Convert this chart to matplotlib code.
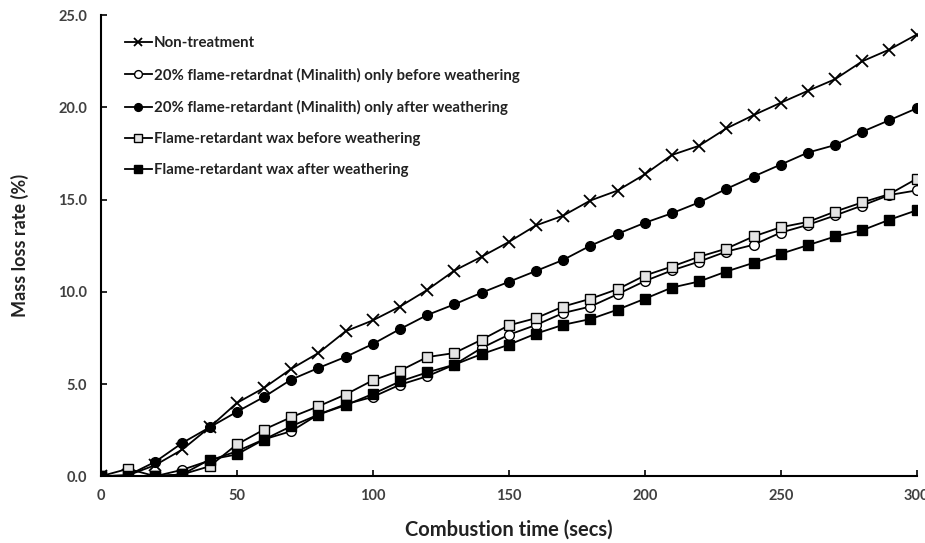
import matplotlib
matplotlib.use("Agg")
import matplotlib.pyplot as plt

# combustion time (secs), sampled every 10 s
time_s = list(range(0, 310, 10))

# mass loss rate (%)
non_treatment = [0, 0.05, 0.6, 1.45, 2.65, 3.97, 4.79, 5.82, 6.68, 7.86, 8.45,
                 9.2, 10.1, 11.15, 11.9, 12.7, 13.6, 14.13, 14.95, 15.49, 16.37,
                 17.42, 17.92, 18.86, 19.58, 20.25, 20.9, 21.53, 22.5, 23.14, 23.95]
fr_before = [0, 0.0, 0.0, 0.35, 0.85, 1.35, 2.0, 2.44, 3.35, 3.9, 4.3,
             4.96, 5.42, 6.05, 6.95, 7.67, 8.2, 8.85, 9.2, 9.87, 10.58,
             11.16, 11.64, 12.18, 12.55, 13.21, 13.63, 14.14, 14.68, 15.25, 15.5]
fr_after = [0, 0.05, 0.78, 1.81, 2.65, 3.49, 4.30, 5.24, 5.87, 6.47, 7.17,
            7.98, 8.74, 9.32, 9.95, 10.54, 11.13, 11.73, 12.5, 13.14, 13.74,
            14.26, 14.85, 15.58, 16.25, 16.9, 17.55, 17.96, 18.68, 19.31, 19.95]
wax_before = [0, 0.4, 0.0, 0.1, 0.54, 1.72, 2.53, 3.2, 3.79, 4.43, 5.2,
              5.72, 6.46, 6.68, 7.4, 8.18, 8.57, 9.2, 9.62, 10.14, 10.88,
              11.37, 11.9, 12.34, 13.0, 13.5, 13.79, 14.35, 14.85, 15.3, 16.13]
wax_after = [0, 0.0, 0.0, 0.1, 0.9, 1.18, 1.99, 2.71, 3.34, 3.85, 4.46,
             5.14, 5.63, 6.05, 6.62, 7.13, 7.73, 8.21, 8.52, 9.03, 9.62,
             10.23, 10.56, 11.1, 11.57, 12.06, 12.53, 13.0, 13.34, 13.91, 14.42]

labels = ["Non-treatment",
          "20% flame-retardnat (Minalith) only before weathering",
          "20% flame-retardant (Minalith) only after weathering",
          "Flame-retardant wax before weathering",
          "Flame-retardant wax after weathering"]
x_ticks = [0, 50, 100, 150, 200, 250, 300]
y_ticks = [0, 5, 10, 15, 20, 25]

plt.rcParams['font.family'] = ['Lato', 'DejaVu Sans']

fig = plt.figure(figsize=(9.25, 5.43), dpi=100)
ax = fig.add_axes([0.109, 0.123, 0.882, 0.849])

line_kw = dict(color="black", linewidth=1.3, markeredgecolor="black", markeredgewidth=1.0)
ax.plot(time_s, non_treatment, marker="x", markersize=8, markeredgewidth=1.3,
        label=labels[0], color="black", linewidth=1.3)
ax.plot(time_s, fr_before, marker="o", markersize=7, markerfacecolor="white",
        label=labels[1], **line_kw)
ax.plot(time_s, fr_after, marker="o", markersize=7, markerfacecolor="black",
        label=labels[2], **line_kw)
ax.plot(time_s, wax_before, marker="s", markersize=7, markerfacecolor="#e4e4e4",
        label=labels[3], **line_kw)
ax.plot(time_s, wax_after, marker="s", markersize=7, markerfacecolor="black",
        label=labels[4], **line_kw)

ax.set_xlim(0, 300)
ax.set_ylim(0, 25)
ax.set_xticks(x_ticks)
ax.set_yticks(y_ticks)
ax.set_yticklabels([f"{v:.1f}" for v in y_ticks])
ax.tick_params(direction="in", length=4, width=1.2, colors="black",
               labelcolor="#404040", labelsize=10.5)
ax.tick_params(axis="x", pad=9)
ax.tick_params(axis="y", pad=10)
for lab in ax.get_xticklabels() + ax.get_yticklabels():
    lab.set_fontweight("bold")

for side in ["top", "right"]:
    ax.spines[side].set_visible(False)
for side in ["left", "bottom"]:
    ax.spines[side].set_linewidth(1.5)

ax.set_xlabel("Combustion time (secs)", fontsize=14.5, fontweight="bold",
              color="#222222", labelpad=12)
ax.set_ylabel("Mass loss rate (%)", fontsize=13, fontweight="bold",
              color="#222222", labelpad=21)

leg = ax.legend(loc="upper left", bbox_to_anchor=(0.013, 0.9835), frameon=False,
                handlelength=1.8, handletextpad=0.15, labelspacing=1.15,
                prop={"weight": "bold", "size": 10.8}, markerscale=0.8)
for t in leg.get_texts():
    t.set_color("#222222")

fig.savefig("out.png", dpi=100)
